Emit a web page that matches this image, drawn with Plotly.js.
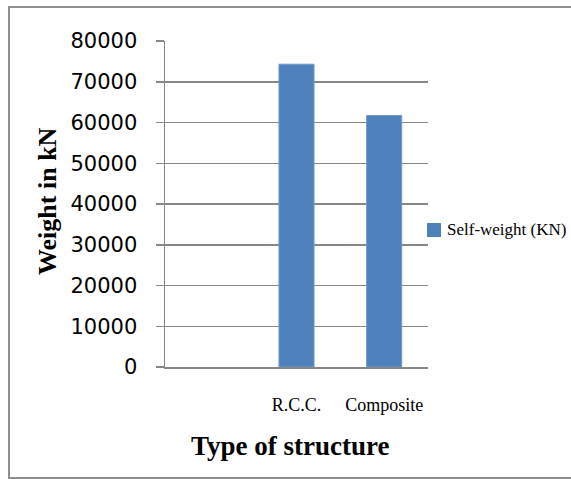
<!DOCTYPE html>
<html>
<head>
<meta charset="utf-8">
<script src="https://cdn.plot.ly/plotly-3.0.1.min.js"></script>
<style>
  html, body { margin: 0; padding: 0; background: #ffffff; overflow: hidden; }
  #wrap { position: relative; width: 571px; height: 479px; overflow: hidden; }
  #chart { width: 571px; height: 479px; }
  /* outer chart frame, open on the right edge of the window */
  #frame {
    position: absolute; left: 8px; top: 6px; width: 700px; height: 469px;
    border: 2px solid #8e8e8e; pointer-events: none;
  }
</style>
</head>
<body>
<div id="wrap">
  <div id="chart"></div>
  <div id="frame"></div>
</div>
<script>
// Self-weight of the structure, by structural system
const categories = ["", "R.C.C.", "Composite"];
const selfWeight = [null, 74300, 61700];
const seriesName = "Self-weight (KN)";
const yTickValues = [0, 10000, 20000, 30000, 40000, 50000, 60000, 70000, 80000];

const W = 571, H = 479;
const plotLeft = 165, plotRight = 428, plotTop = 41, plotBottom = 367;
const plotW = plotRight - plotLeft, plotH = plotBottom - plotTop;
// pixel -> paper coordinates
const px = x => (x - plotLeft) / plotW;
const py = y => (plotBottom - y) / plotH;

const gridColor = "#878787";
const barColor = "#4f81bd";
const serif = "Liberation Serif";

const positions = categories.map((_, i) => i);

const trace = {
  type: "bar",
  name: seriesName,
  x: positions,
  y: selfWeight,
  marker: { color: barColor, line: { color: "#6f97cb", width: 1 } },
  hoverinfo: "skip"
};

const layout = {
  width: W,
  height: H,
  margin: { l: plotLeft, r: W - plotRight, t: plotTop, b: H - plotBottom, pad: 0 },
  paper_bgcolor: "#ffffff",
  plot_bgcolor: "#ffffff",
  showlegend: false,
  bargap: 0.6,
  xaxis: {
    range: [-0.5, categories.length - 0.5],
    tickmode: "array",
    tickvals: positions,
    ticktext: categories,
    showgrid: false,
    zeroline: false,
    showline: true,
    linecolor: gridColor,
    linewidth: 1.5,
    ticks: "",
    ticklabelstandoff: 21,
    tickfont: { family: serif, size: 18, color: "#000000" },
    fixedrange: true
  },
  yaxis: {
    range: [0, 80000],
    tickmode: "array",
    tickvals: yTickValues,
    ticktext: yTickValues.map(String),
    showgrid: true,
    gridcolor: gridColor,
    gridwidth: 1.5,
    zeroline: false,
    showline: true,
    linecolor: gridColor,
    linewidth: 1.5,
    ticks: "outside",
    ticklen: 8,
    tickwidth: 1.5,
    tickcolor: gridColor,
    ticklabelstandoff: 14,
    tickfont: { family: "DejaVu Sans", size: 21, color: "#000000" },
    fixedrange: true
  },
  shapes: [
    // legend swatch
    {
      type: "rect", xref: "paper", yref: "paper",
      x0: px(427), x1: px(441), y0: py(223), y1: py(237),
      line: { width: 0 }, fillcolor: barColor
    }
  ],
  annotations: [
    {
      text: "<b>Weight in kN</b>", textangle: -90,
      xref: "paper", yref: "paper", x: px(47), y: py(201),
      xanchor: "center", yanchor: "middle", showarrow: false,
      font: { family: serif, size: 26, color: "#000000" }
    },
    {
      text: "<b>Type of structure</b>",
      xref: "paper", yref: "paper", x: px(290), y: py(446),
      xanchor: "center", yanchor: "middle", showarrow: false,
      font: { family: serif, size: 27, color: "#000000" }
    },
    {
      text: seriesName,
      xref: "paper", yref: "paper", x: px(445), y: py(229),
      xanchor: "left", yanchor: "middle", showarrow: false,
      font: { family: serif, size: 17, color: "#000000" }
    }
  ]
};

Plotly.newPlot("chart", [trace], layout, { staticPlot: true, displayModeBar: false });
</script>
</body>
</html>
